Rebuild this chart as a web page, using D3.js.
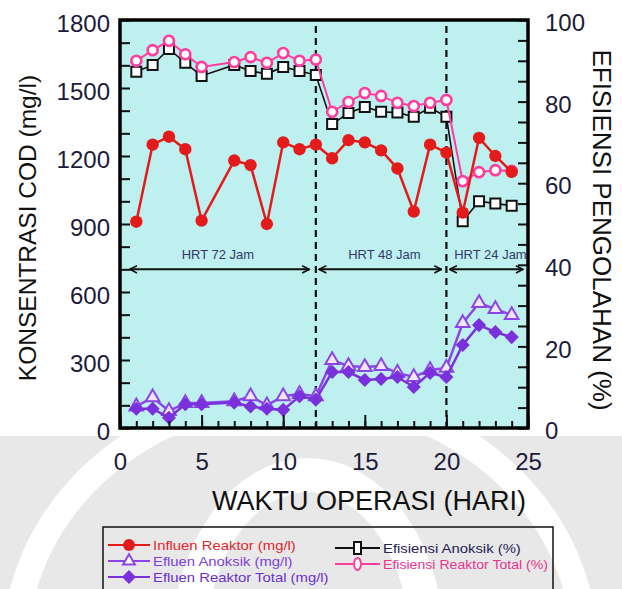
<!DOCTYPE html>
<html>
<head>
<meta charset="utf-8">
<script src="https://cdn.jsdelivr.net/npm/d3@7"></script>
<style>
  body { margin: 0; background: #fff; }
  svg { display: block; font-family: "Liberation Sans", Arial, sans-serif; }
</style>
</head>
<body>
<svg id="chart" width="622" height="589"></svg>
<script>
// operation days (no sample on day 6)
const days = [1, 2, 3, 4, 5, 7, 8, 9, 10, 11, 12, 13, 14, 15, 16, 17, 18, 19, 20, 21, 22, 23, 24];

// COD, mg/l (left axis)
const influen = [910, 1250, 1285, 1230, 915, 1180, 1160, 900, 1260, 1230, 1250,
  1190, 1270, 1260, 1225, 1145, 955, 1250, 1215, 950, 1280, 1200, 1130];
const efluenAnoksik = [95, 135, 75, 110, 110, 118, 140, 100, 140, 150, 140,
  300, 273, 269, 273, 243, 225, 256, 265, 463, 551, 525, 498];
const efluenTotal = [85, 85, 45, 105, 105, 112, 95, 85, 80, 140, 125,
  247, 247, 212, 216, 225, 181, 243, 225, 366, 454, 423, 401];

// efficiency, % (right axis)
const efAnoksik = [87.3, 89.0, 92.9, 89.5, 86.3, 89.0, 87.5, 86.8, 88.5, 87.5, 86.5,
  74.5, 77.2, 78.7, 77.5, 77.3, 76.3, 78.5, 76.3, 50.7, 55.6, 55.0, 54.5];
const efTotal = [90.0, 92.6, 94.9, 91.6, 88.5, 89.7, 90.9, 89.5, 91.9, 90.0, 90.3,
  77.5, 79.9, 82.1, 81.4, 79.7, 78.9, 79.7, 80.4, 60.5, 62.7, 63.2, 63.0];

// HRT periods
const hrtLabels = ['HRT 72 Jam', 'HRT 48 Jam', 'HRT 24 Jam'];
const hrtStart = [0.6, 12.2, 20.2];
const hrtEnd = [11.6, 19.7, 24.7];
const hrtTextDay = [6.0, 16.2, 22.7];
const hrtBreaks = [12, 20];

const legendLabels = ['Influen Reaktor (mg/l)', 'Efluen Anoksik (mg/l)', 'Efluen Reaktor Total (mg/l)',
  'Efisiensi Anoksik (%)', 'Efisiensi Reaktor Total (%)'];

const svg = d3.select('#chart');
const L = 120, R = 528, T = 20, B = 428;

const x = d3.scaleLinear().domain([0, 25]).range([L, R]);
const yL = d3.scaleLinear().domain([0, 1800]).range([B, T]);
const yR = d3.scaleLinear().domain([0, 100]).range([B, T]);

// faint watermark behind the figure
const wm = svg.append('g');
wm.append('rect').attr('x', 0).attr('y', 436).attr('width', 622).attr('height', 153).attr('fill', '#e8e8e8');
wm.append('ellipse').attr('cx', 300).attr('cy', 650).attr('rx', 285).attr('ry', 255)
  .attr('fill', 'none').attr('stroke', '#fff').attr('stroke-width', 26);
wm.append('ellipse').attr('cx', 308).attr('cy', 650).attr('rx', 120).attr('ry', 175)
  .attr('fill', 'none').attr('stroke', '#fff').attr('stroke-width', 34);

const defs = svg.append('defs');
defs.append('clipPath').attr('id', 'plotclip')
  .append('rect').attr('x', L).attr('y', T).attr('width', R - L).attr('height', B - T);
defs.append('marker').attr('id', 'chev')
  .attr('viewBox', '0 0 10 10').attr('refX', 9).attr('refY', 5)
  .attr('markerWidth', 9).attr('markerHeight', 9).attr('markerUnits', 'userSpaceOnUse')
  .attr('orient', 'auto-start-reverse')
  .append('path').attr('d', 'M1,1 L9,5 L1,9').attr('fill', 'none')
  .attr('stroke', '#111').attr('stroke-width', 1.8);

svg.append('rect').attr('x', L).attr('y', T).attr('width', R - L).attr('height', B - T)
  .attr('fill', '#bef0f0');

const plot = svg.append('g').attr('clip-path', 'url(#plotclip)');

// period separators
plot.selectAll('.sep').data(hrtBreaks).enter().append('line')
  .attr('x1', d => x(d)).attr('x2', d => x(d))
  .attr('y1', yL(1800) + 6).attr('y2', yL(0))
  .attr('stroke', '#111').attr('stroke-width', 2.2).attr('stroke-dasharray', '7,5');

plot.selectAll('.hrt').data(hrtLabels).enter().append('line')
  .attr('x1', (d, i) => x(hrtStart[i])).attr('x2', (d, i) => x(hrtEnd[i]))
  .attr('y1', yL(700)).attr('y2', yL(700))
  .attr('stroke', '#111').attr('stroke-width', 2)
  .attr('marker-start', 'url(#chev)').attr('marker-end', 'url(#chev)');

plot.selectAll('.hrtt').data(hrtLabels).enter().append('text')
  .attr('x', (d, i) => x(hrtTextDay[i])).attr('y', yL(745))
  .attr('text-anchor', 'middle').attr('font-size', 13).attr('fill', '#34386a')
  .text(d => d);

const rowsOf = (arr) => days.map((d, i) => ({ d, v: arr[i] }));

function drawSeries(arr, yScale, color, width) {
  const line = d3.line().x(p => x(p.d)).y(p => yScale(p.v));
  plot.append('path').datum(rowsOf(arr)).attr('d', line)
    .attr('fill', 'none').attr('stroke', color).attr('stroke-width', width);
  return plot.append('g').selectAll('path').data(rowsOf(arr)).enter().append('path')
    .attr('transform', p => `translate(${x(p.d)},${yScale(p.v)})`);
}

// purple effluents
drawSeries(efluenAnoksik, yL, '#8b45e6', 2.5)
  .attr('d', d3.symbol(d3.symbolTriangle, 80)())
  .attr('fill', '#f2e6ff').attr('stroke', '#8b45e6').attr('stroke-width', 2);
drawSeries(efluenTotal, yL, '#7a30da', 2.5)
  .attr('d', d3.symbol(d3.symbolSquare, 100)())
  .attr('transform', p => `translate(${x(p.d)},${yL(p.v)}) rotate(45)`)
  .attr('fill', '#7a30da');

// efficiencies
drawSeries(efAnoksik, yR, '#111', 1.6)
  .attr('d', d3.symbol(d3.symbolSquare, 100)())
  .attr('fill', '#fff').attr('stroke', '#111').attr('stroke-width', 2);
drawSeries(efTotal, yR, '#ff3d9e', 2)
  .attr('d', d3.symbol(d3.symbolCircle, 80)())
  .attr('fill', '#fff').attr('stroke', '#ff3d9e').attr('stroke-width', 2.6);

// influent
drawSeries(influen, yL, '#e31b1b', 2.5)
  .attr('d', d3.symbol(d3.symbolCircle, 120)())
  .attr('fill', '#e31b1b');

// axes
const tickCol = '#1b1b3a';
const styleAxis = g => {
  g.select('.domain').remove();
  g.selectAll('line').attr('stroke', '#111').attr('stroke-width', 2);
  g.selectAll('text').attr('fill', tickCol).attr('font-size', 24)
    .attr('font-family', '"Liberation Sans", Arial, sans-serif');
};

svg.append('g').attr('transform', `translate(${L},0)`)
  .call(d3.axisLeft(yL).tickValues(d3.range(0, 1801, 100))
    .tickFormat(d => d % 300 === 0 ? d : '').tickSize(-10).tickPadding(10))
  .call(styleAxis)
  .call(g => g.selectAll('text').attr('transform', 'translate(0,4)'));

svg.append('g').attr('transform', `translate(${R},0)`)
  .call(d3.axisRight(yR).tickValues(d3.range(0, 101, 5))
    .tickFormat(d => d % 20 === 0 ? d : '').tickSize(-10).tickPadding(17))
  .call(styleAxis)
  .call(g => g.selectAll('text').attr('transform', 'translate(0,3)'));

svg.append('g').attr('transform', `translate(0,${B})`)
  .call(d3.axisBottom(x).tickValues(d3.range(0, 26, 1)).tickFormat('').tickSize(-7))
  .call(styleAxis);
svg.append('g').attr('transform', `translate(0,${B})`)
  .call(d3.axisBottom(x).tickValues(d3.range(0, 26, 5)).tickSize(-13).tickPadding(25))
  .call(styleAxis);

svg.append('rect').attr('x', L).attr('y', T).attr('width', R - L).attr('height', B - T)
  .attr('fill', 'none').attr('stroke', '#000').attr('stroke-width', 3.5);

// titles
svg.append('text').attr('transform', 'translate(27,228) rotate(-90)')
  .attr('text-anchor', 'middle').attr('dy', '0.35em').attr('font-size', 24.5).attr('fill', '#111')
  .text('KONSENTRASI COD (mg/l)');
svg.append('text').attr('transform', 'translate(602,230) rotate(90)')
  .attr('text-anchor', 'middle').attr('dy', '0.35em').attr('font-size', 26).attr('fill', '#111')
  .text('EFISIENSI PENGOLAHAN (%)');
svg.append('text').attr('x', 369).attr('y', 510)
  .attr('text-anchor', 'middle').attr('font-size', 27).attr('fill', '#111')
  .text('WAKTU OPERASI (HARI)');

// legend
const lg = svg.append('g');
lg.append('rect').attr('x', 103).attr('y', 527).attr('width', 450).attr('height', 80)
  .attr('fill', 'none').attr('stroke', '#111').attr('stroke-width', 1.5);

const legendColor = ['#e31b1b', '#8b45e6', '#7a30da', '#111', '#ff3d9e'];
const legendText = ['#e3262a', '#7d3fd8', '#6a2fd0', '#222255', '#e8338f'];
const legendPos = [[108, 545], [108, 561], [108, 577], [335, 548], [335, 564]];
const legendSym = [
  s => s.attr('d', d3.symbol(d3.symbolCircle, 110)()).attr('fill', '#e31b1b'),
  s => s.attr('d', d3.symbol(d3.symbolTriangle, 60)()).attr('fill', '#fff').attr('stroke', '#8b45e6').attr('stroke-width', 2),
  s => s.attr('d', 'M0,-7L7,0L0,7L-7,0Z').attr('fill', '#7a30da'),
  s => s.attr('d', 'M-3.5,-6h7v12h-7z').attr('fill', '#fff').attr('stroke', '#111').attr('stroke-width', 2),
  s => s.attr('d', 'M0,-6a3.5,6 0 1,0 0.01,0z').attr('fill', '#fff').attr('stroke', '#ff3d9e').attr('stroke-width', 2)
];
legendLabels.forEach((lab, i) => {
  const [lx, ly] = legendPos[i];
  const w = i < 3 ? 42 : 45;
  lg.append('line').attr('x1', lx).attr('x2', lx + w).attr('y1', ly).attr('y2', ly)
    .attr('stroke', legendColor[i]).attr('stroke-width', 2);
  const s = lg.append('path').attr('transform', `translate(${lx + w / 2},${ly})`);
  legendSym[i](s);
  const t = lg.append('text').attr('x', lx + w + 3).attr('y', ly).attr('dy', '0.35em')
    .attr('font-size', 13.5).attr('fill', legendText[i]).text(lab);
  // the original lettering is a little wider than Liberation Sans
  const len = t.node().getComputedTextLength();
  t.attr('textLength', Math.min(len * 1.1, 548 - (lx + w + 3))).attr('lengthAdjust', 'spacingAndGlyphs');
});
</script>
</body>
</html>
